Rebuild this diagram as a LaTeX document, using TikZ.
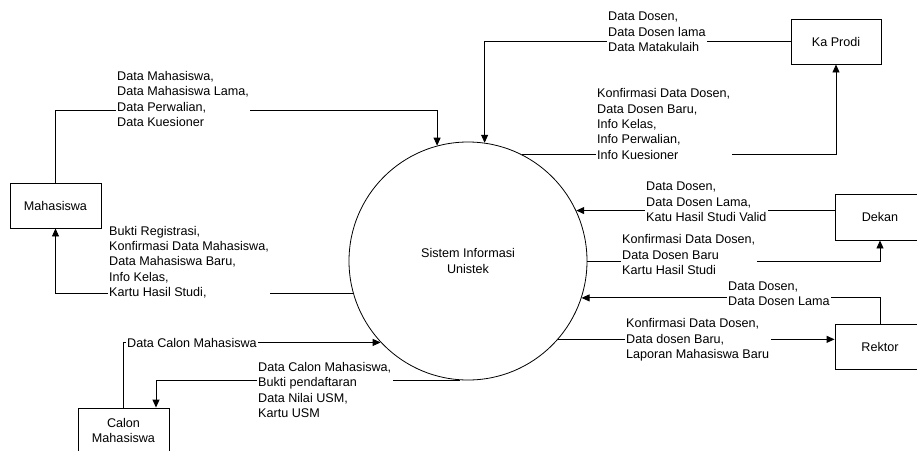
\documentclass[tikz,border=0pt]{standalone}
\usepackage{fontspec}
\setmainfont{Liberation Sans}
\usepackage{tikz}
\usetikzlibrary{arrows.meta, positioning, calc}
\tikzset{
  ext node/.style={rectangle, draw, minimum width=90pt, minimum height=45pt,
                   inner sep=0pt, align=center, line width=0.9pt,
                   font=\fontsize{12.6pt}{15.3pt}\selectfont},
  proc node/.style={circle, draw, minimum size=238pt, inner sep=0pt,
                    align=center, line width=0.8pt,
                    font=\fontsize{12.6pt}{15.3pt}\selectfont},
  flow label/.style={fill=white, anchor=west, align=left, inner xsep=1.5pt,
                     inner ysep=0pt, font=\fontsize{12.6pt}{15.3pt}\selectfont},
  flow edge/.style={-{Triangle[length=8pt, width=7pt]}, line width=0.9pt},
}
\begin{document}
\begin{tikzpicture}[x=1pt, y=-1pt]
  \clip (0,0) rectangle (917,450);
  % process and external entities
  \node[proc node] (sys) at (468,261) {Sistem Informasi\\Unistek};
  \node[ext node, minimum width=91pt] (mhs) at (55.5,205.5) {Mahasiswa};
  \node[ext node] (kp) at (836,41.5) {Ka Prodi};
  \node[ext node, minimum height=46pt] (dk) at (880,217) {Dekan};
  \node[ext node] (rk) at (880,346.5) {Rektor};
  \node[ext node, minimum width=91pt] (cm) at (123.5,430.5) {Calon\\Mahasiswa};
  \coordinate (k1) at (0,110);

  % data flows
  \draw[flow edge] (mhs.north) |- (sys.105 |- k1) -- (sys.105);
  \draw[flow edge] (sys.196) -| (mhs.south);
  \draw[flow edge] (kp.west) -| (sys.82);
  \draw[flow edge] (sys.63) -| (kp.south);
  \draw[flow edge] (sys.25 -| dk.west) -- (sys.25);
  \draw[flow edge] (sys.east) -| (dk.south);
  \draw[flow edge] (rk.north) |- (sys.-18);
  \draw[flow edge] (sys.-41) -- (sys.-41 -| rk.west);
  \draw[flow edge] (cm.north) |- (sys.223);
  \draw[flow edge] (sys.266) -| ([xshift=32.5pt]cm.north);

  % flow labels
  \node[flow label] (l1) at (115.5,99) {Data Mahasiswa,\\Data Mahasiswa Lama,\\Data Perwalian,\\Data Kuesioner};
  \node[flow label] (l2) at (107.5,262) {Bukti Registrasi,\\Konfirmasi Data Mahasiswa,\\Data Mahasiswa Baru,\\Info Kelas,\\Kartu Hasil Studi,};
  \node[flow label] (l3) at (606.5,32) {Data Dosen,\\Data Dosen lama\\Data Matakulaih};
  \node[flow label] (l4) at (595.5,124) {Konfirmasi Data Dosen,\\Data Dosen Baru,\\Info Kelas,\\Info Perwalian,\\Info Kuesioner};
  \node[flow label] (l5) at (644.5,202) {Data Dosen,\\Data Dosen Lama,\\Katu Hasil Studi Valid};
  \node[flow label] (l6) at (620.5,254.5) {Konfirmasi Data Dosen,\\Data Dosen Baru\\Kartu Hasil Studi};
  \node[flow label] (l7) at (726.5,293.5) {Data Dosen,\\Data Dosen Lama};
  \node[flow label] (l8) at (624.5,340) {Konfirmasi Data Dosen,\\Data dosen Baru,\\Laporan Mahasiswa Baru};
  \node[flow label] (l9) at (125.5,343) {Data Calon Mahasiswa};
  \node[flow label] (l10) at (256.5,390) {Data Calon Mahasiswa,\\Bukti pendaftaran\\Data Nilai USM,\\Kartu USM};
\end{tikzpicture}
\end{document}
